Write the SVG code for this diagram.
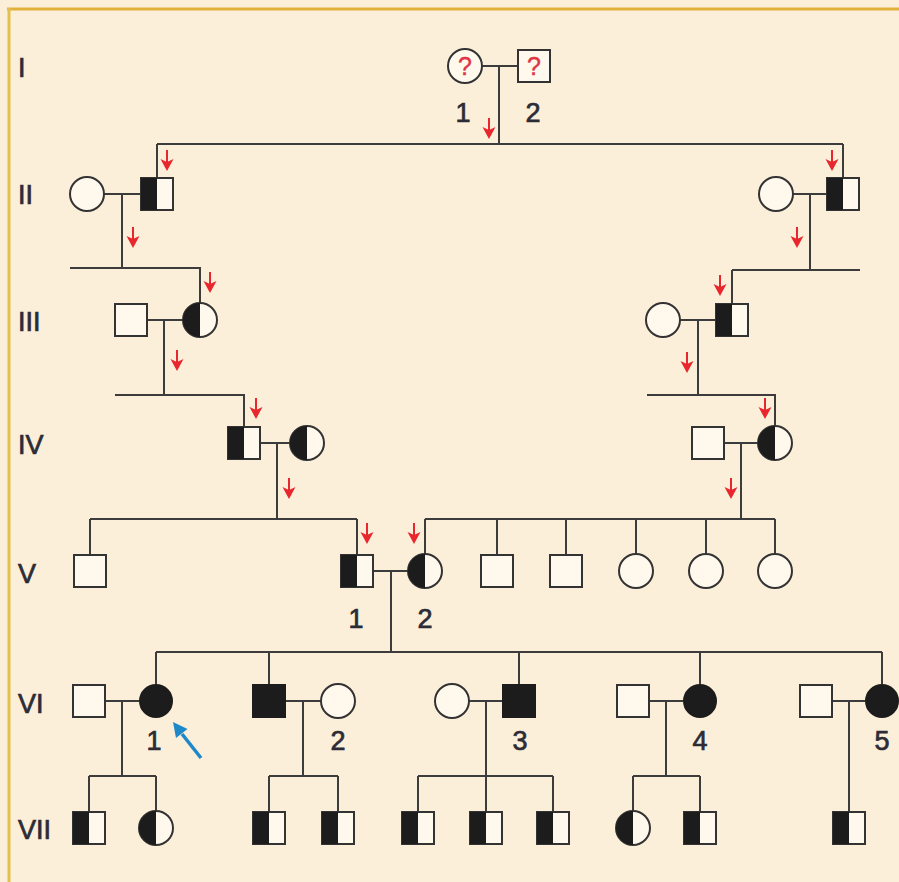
<svg xmlns="http://www.w3.org/2000/svg" xmlns:xlink="http://www.w3.org/1999/xlink" width="899" height="882" viewBox="0 0 899 882">
  <style>
    .ln { stroke: #3c3c3c; stroke-width: 2; fill: none; }
    .open { fill: #fff8ec; stroke: #333; stroke-width: 2; }
    .full { fill: #1c1c1c; stroke: #1c1c1c; stroke-width: 2; }
    .half { fill: #1c1c1c; stroke: none; }
    .gen { font-family: "Liberation Sans", Arial, sans-serif; font-size: 27px; fill: #2c2c36; stroke: #2c2c36; stroke-width: 0.7; }
    .num { font-family: "Liberation Sans", Arial, sans-serif; font-size: 27px; fill: #2c2c36; stroke: #2c2c36; stroke-width: 0.7; text-anchor: middle; }
    .q { font-family: "Liberation Sans", Arial, sans-serif; font-size: 25px; fill: #e03545; stroke: #e03545; stroke-width: 0.4; text-anchor: middle; }
  </style>
  <defs>
    <!-- small red descent arrow, origin at top of shaft -->
    <g id="ra">
      <line x1="0" y1="0" x2="0" y2="12" stroke="#e8262e" stroke-width="2"/>
      <polygon points="-6.5,9 0,12 6.5,9 0,21" fill="#e8262e"/>
    </g>
  </defs>

  <!-- background and frame -->
  <rect x="0" y="0" width="899" height="882" fill="#fcefd9"/>
  <line x1="7" y1="9" x2="899" y2="9" stroke="#e2b13c" stroke-width="3"/>
  <line x1="9" y1="8" x2="9" y2="882" stroke="#e2c050" stroke-width="3"/>

  <!-- generation labels -->
  <g id="generations">
    <text class="gen" x="18" y="77">I</text>
    <text class="gen" x="18" y="204">II</text>
    <text class="gen" x="18" y="331">III</text>
    <text class="gen" x="18" y="454">IV</text>
    <text class="gen" x="18" y="583">V</text>
    <text class="gen" x="18" y="713">VI</text>
    <text class="gen" x="18" y="839">VII</text>
  </g>

  <!-- connectors: marriage lines, descent lines, sibships -->
  <g id="connectors" class="ln">
    <!-- I -->
    <path d="M482,66 H518 M499,66 V144 M157,144 H843 M157,144 V178 M843,144 V178"/>
    <!-- II -->
    <path d="M104,194 H141 M122,194 V268 M70,268 H200 V303"/>
    <path d="M793,194 H827 M810,194 V270 M732,270 H860 M732,270 V304"/>
    <!-- III -->
    <path d="M147,320 H183 M164,320 V395 M115,395 H244 V427"/>
    <path d="M680,320 H716 M698,320 V395 M647,395 H775 V426"/>
    <!-- IV -->
    <path d="M260,443 H290 M277,443 V519 M90,519 H357 M90,519 V555 M357,519 V555"/>
    <path d="M724,443 H758 M741,443 V519 M425,519 H775 M425,519 V554 M497,519 V555 M566,519 V555 M636,519 V554 M706,519 V554 M775,519 V554"/>
    <!-- V -->
    <path d="M373,571 H408 M391,571 V652 M156,652 H882 M156,652 V684 M269,652 V685 M519,652 V685 M700,652 V684 M882,652 V684"/>
    <!-- VI -->
    <path d="M105,701 H139 M122,701 V776 M89,776 H156 M89,776 V812 M156,776 V811"/>
    <path d="M285,701 H321 M303,701 V776 M269,776 H338 M269,776 V812 M338,776 V812"/>
    <path d="M468,701 H503 M486,701 V776 M418,776 H553 M418,776 V812 M486,776 V812 M553,776 V812"/>
    <path d="M649,701 H683 M666,701 V776 M633,776 H700 M633,776 V811 M700,776 V812"/>
    <path d="M832,701 H865 M849,701 V812"/>
  </g>

  <!-- red transmission arrows -->
  <g id="transmission">
    <use xlink:href="#ra" x="489" y="118"/>
    <use xlink:href="#ra" x="167" y="150"/>
    <use xlink:href="#ra" x="832" y="150"/>
    <use xlink:href="#ra" x="133" y="227"/>
    <use xlink:href="#ra" x="797" y="227"/>
    <use xlink:href="#ra" x="210" y="272"/>
    <use xlink:href="#ra" x="720" y="275"/>
    <use xlink:href="#ra" x="177" y="350"/>
    <use xlink:href="#ra" x="687" y="352"/>
    <use xlink:href="#ra" x="256" y="398"/>
    <use xlink:href="#ra" x="765" y="398"/>
    <use xlink:href="#ra" x="289" y="478"/>
    <use xlink:href="#ra" x="731" y="478"/>
    <use xlink:href="#ra" x="367" y="523"/>
    <use xlink:href="#ra" x="414" y="523"/>
  </g>

  <!-- generation I -->
  <g id="I-1">
    <circle class="open" cx="465" cy="66" r="17"/>
    <text class="q" x="465" y="75">?</text>
    <text class="num" x="463" y="122">1</text>
  </g>
  <g id="I-2">
    <rect class="open" x="518" y="50" width="32" height="32"/>
    <text class="q" x="534" y="75">?</text>
    <text class="num" x="533" y="122">2</text>
  </g>

  <!-- generation II -->
  <g id="II-1"><circle class="open" cx="87" cy="194" r="17"/></g>
  <g id="II-2">
    <rect class="open" x="141" y="178" width="32" height="32"/>
    <rect class="half" x="141" y="178" width="16" height="32"/>
  </g>
  <g id="II-3"><circle class="open" cx="776" cy="194" r="17"/></g>
  <g id="II-4">
    <rect class="open" x="827" y="178" width="32" height="32"/>
    <rect class="half" x="827" y="178" width="16" height="32"/>
  </g>

  <!-- generation III -->
  <g id="III-1"><rect class="open" x="115" y="304" width="32" height="32"/></g>
  <g id="III-2">
    <circle class="open" cx="200" cy="320" r="17"/>
    <path class="half" d="M200,303 A17,17 0 0 0 200,337 Z"/>
  </g>
  <g id="III-3"><circle class="open" cx="663" cy="320" r="17"/></g>
  <g id="III-4">
    <rect class="open" x="716" y="304" width="32" height="32"/>
    <rect class="half" x="716" y="304" width="16" height="32"/>
  </g>

  <!-- generation IV -->
  <g id="IV-1">
    <rect class="open" x="228" y="427" width="32" height="32"/>
    <rect class="half" x="228" y="427" width="16" height="32"/>
  </g>
  <g id="IV-2">
    <circle class="open" cx="307" cy="443" r="17"/>
    <path class="half" d="M307,426 A17,17 0 0 0 307,460 Z"/>
  </g>
  <g id="IV-3"><rect class="open" x="692" y="427" width="32" height="32"/></g>
  <g id="IV-4">
    <circle class="open" cx="775" cy="443" r="17"/>
    <path class="half" d="M775,426 A17,17 0 0 0 775,460 Z"/>
  </g>

  <!-- generation V -->
  <g id="V-a"><rect class="open" x="74" y="555" width="32" height="32"/></g>
  <g id="V-1">
    <rect class="open" x="341" y="555" width="32" height="32"/>
    <rect class="half" x="341" y="555" width="16" height="32"/>
    <text class="num" x="356" y="628">1</text>
  </g>
  <g id="V-2">
    <circle class="open" cx="425" cy="571" r="17"/>
    <path class="half" d="M425,554 A17,17 0 0 0 425,588 Z"/>
    <text class="num" x="425" y="628">2</text>
  </g>
  <g id="V-b"><rect class="open" x="481" y="555" width="32" height="32"/></g>
  <g id="V-c"><rect class="open" x="550" y="555" width="32" height="32"/></g>
  <g id="V-d"><circle class="open" cx="636" cy="571" r="17"/></g>
  <g id="V-e"><circle class="open" cx="706" cy="571" r="17"/></g>
  <g id="V-f"><circle class="open" cx="775" cy="571" r="17"/></g>

  <!-- generation VI -->
  <g id="VI-1-spouse"><rect class="open" x="73" y="685" width="32" height="32"/></g>
  <g id="VI-1">
    <circle class="full" cx="156" cy="701" r="16"/>
    <text class="num" x="154" y="750">1</text>
  </g>
  <g id="proband-arrow">
    <line x1="201" y1="758" x2="182" y2="734" stroke="#1e88c8" stroke-width="3.5"/>
    <polygon points="173,722 187.5,729 176,738" fill="#1e88c8"/>
  </g>
  <g id="VI-2-brother"><rect class="full" x="253" y="685" width="32" height="32"/></g>
  <g id="VI-2">
    <circle class="open" cx="338" cy="701" r="17"/>
    <text class="num" x="338" y="750">2</text>
  </g>
  <g id="VI-3-spouse"><circle class="open" cx="452" cy="701" r="17"/></g>
  <g id="VI-3">
    <rect class="full" x="503" y="685" width="32" height="32"/>
    <text class="num" x="520" y="750">3</text>
  </g>
  <g id="VI-4-spouse"><rect class="open" x="617" y="685" width="32" height="32"/></g>
  <g id="VI-4">
    <circle class="full" cx="700" cy="701" r="16"/>
    <text class="num" x="700" y="750">4</text>
  </g>
  <g id="VI-5-spouse"><rect class="open" x="800" y="685" width="32" height="32"/></g>
  <g id="VI-5">
    <circle class="full" cx="882" cy="701" r="16"/>
    <text class="num" x="882" y="750">5</text>
  </g>

  <!-- generation VII -->
  <g id="VII-1">
    <rect class="open" x="73" y="812" width="32" height="32"/>
    <rect class="half" x="73" y="812" width="16" height="32"/>
  </g>
  <g id="VII-2">
    <circle class="open" cx="156" cy="828" r="17"/>
    <path class="half" d="M156,811 A17,17 0 0 0 156,845 Z"/>
  </g>
  <g id="VII-3">
    <rect class="open" x="253" y="812" width="32" height="32"/>
    <rect class="half" x="253" y="812" width="16" height="32"/>
  </g>
  <g id="VII-4">
    <rect class="open" x="322" y="812" width="32" height="32"/>
    <rect class="half" x="322" y="812" width="16" height="32"/>
  </g>
  <g id="VII-5">
    <rect class="open" x="402" y="812" width="32" height="32"/>
    <rect class="half" x="402" y="812" width="16" height="32"/>
  </g>
  <g id="VII-6">
    <rect class="open" x="470" y="812" width="32" height="32"/>
    <rect class="half" x="470" y="812" width="16" height="32"/>
  </g>
  <g id="VII-7">
    <rect class="open" x="537" y="812" width="32" height="32"/>
    <rect class="half" x="537" y="812" width="16" height="32"/>
  </g>
  <g id="VII-8">
    <circle class="open" cx="633" cy="828" r="17"/>
    <path class="half" d="M633,811 A17,17 0 0 0 633,845 Z"/>
  </g>
  <g id="VII-9">
    <rect class="open" x="684" y="812" width="32" height="32"/>
    <rect class="half" x="684" y="812" width="16" height="32"/>
  </g>
  <g id="VII-10">
    <rect class="open" x="833" y="812" width="32" height="32"/>
    <rect class="half" x="833" y="812" width="16" height="32"/>
  </g>
</svg>
